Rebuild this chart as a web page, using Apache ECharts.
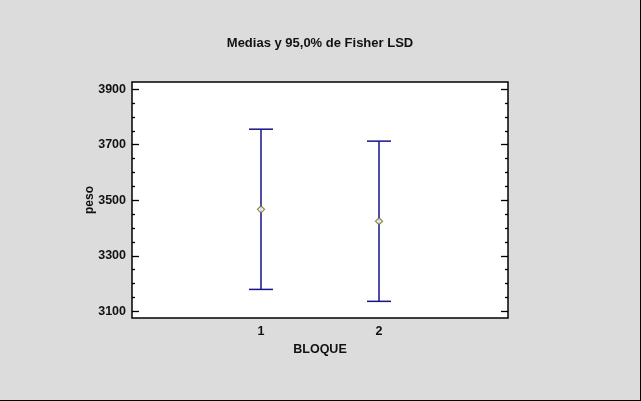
<!DOCTYPE html>
<html>
<head>
<meta charset="utf-8">
<script src="https://cdn.jsdelivr.net/npm/echarts@6/dist/echarts.min.js"></script>
<style>
  html, body { margin: 0; padding: 0; background: #dcdcdc; }
  #chart {
    width: 640px;
    height: 400px;
    border-right: 1px solid #000;
    border-bottom: 1px solid #000;
  }
</style>
</head>
<body>
<div id="chart"></div>
<script>
// datos
const categories = [1, 2];
const means = [3467.5, 3424.5];
const lower = [3179, 3136];
const upper = [3756, 3713];
// escala
const yTicks = [3100, 3300, 3500, 3700, 3900];
const yMinorTicks = [3150, 3200, 3250, 3350, 3400, 3450, 3550, 3600, 3650, 3750, 3800, 3850];

const myChart = echarts.init(document.getElementById("chart"));

const font = "Arial, 'Liberation Sans', sans-serif";
const yMin = 3076;
const yMax = 3926;

// eje y con ticks mayores o menores
const makeYAxis = (position, values, len, withLabels) => ({
  type: "value",
  position: position,
  min: yMin,
  max: yMax,
  name: withLabels ? "peso" : "",
  nameLocation: "middle",
  nameGap: 36,
  nameMoveOverlap: false,
  nameTextStyle: {
    color: "#111",
    fontFamily: font,
    fontWeight: "bold",
    fontSize: 12,
  },
  axisLine: { show: false, onZero: false },
  splitLine: { show: false },
  axisTick: {
    show: true,
    inside: true,
    length: len,
    customValues: values,
    lineStyle: { color: "#000", width: 1.3 },
  },
  axisLabel: {
    show: withLabels,
    customValues: values,
    margin: 6,
    formatter: (v) => String(v),
    color: "#111",
    fontFamily: font,
    fontWeight: "bold",
    fontSize: 12.5,
  },
});

const option = {
  backgroundColor: "#dcdcdc",
  animation: false,
  title: {
    text: "Medias y 95,0% de Fisher LSD",
    left: "center",
    top: 32,
    textStyle: {
      color: "#111",
      fontFamily: font,
      fontWeight: "bold",
      fontSize: 13,
    },
  },
  grid: {
    left: 132,
    top: 82,
    width: 376,
    height: 236,
    show: true,
    backgroundColor: "#fff",
    borderColor: "#000",
    borderWidth: 1.5,
  },
  xAxis: {
    type: "value",
    min: -0.093,
    max: 3.093,
    name: "BLOQUE",
    nameLocation: "middle",
    nameGap: 25,
    nameMoveOverlap: false,
    nameTextStyle: {
      color: "#111",
      fontFamily: font,
      fontWeight: "bold",
      fontSize: 12.5,
    },
    axisLine: { show: false, onZero: false },
    axisTick: { show: false },
    splitLine: { show: false },
    axisLabel: {
      customValues: categories,
      margin: 7,
      color: "#111",
      fontFamily: font,
      fontWeight: "bold",
      fontSize: 12.5,
    },
  },
  yAxis: [
    makeYAxis("left", yTicks, 7, true),
    makeYAxis("left", yMinorTicks, 3, false),
    makeYAxis("right", yTicks, 7, false),
    makeYAxis("right", yMinorTicks, 3, false),
  ],
  series: [
    {
      type: "custom",
      yAxisIndex: 0,
      data: categories.map((c, i) => [c, lower[i], upper[i]]),
      renderItem: (params, api) => {
        const lo = api.coord([api.value(0), api.value(1)]);
        const hi = api.coord([api.value(0), api.value(2)]);
        const half = 12;
        const style = { stroke: "#141488", lineWidth: 1.5 };
        return {
          type: "group",
          children: [
            { type: "line", shape: { x1: lo[0], y1: lo[1], x2: hi[0], y2: hi[1] }, style },
            { type: "line", shape: { x1: hi[0] - half, y1: hi[1], x2: hi[0] + half, y2: hi[1] }, style },
            { type: "line", shape: { x1: lo[0] - half, y1: lo[1], x2: lo[0] + half, y2: lo[1] }, style },
          ],
        };
      },
      z: 2,
    },
    {
      type: "scatter",
      yAxisIndex: 0,
      data: categories.map((c, i) => [c, means[i]]),
      symbol: "diamond",
      symbolSize: 7,
      itemStyle: {
        color: "#fff",
        borderColor: "#6b6b20",
        borderWidth: 1.2,
      },
      z: 3,
    },
  ],
};
myChart.setOption(option);
</script>
</body>
</html>
